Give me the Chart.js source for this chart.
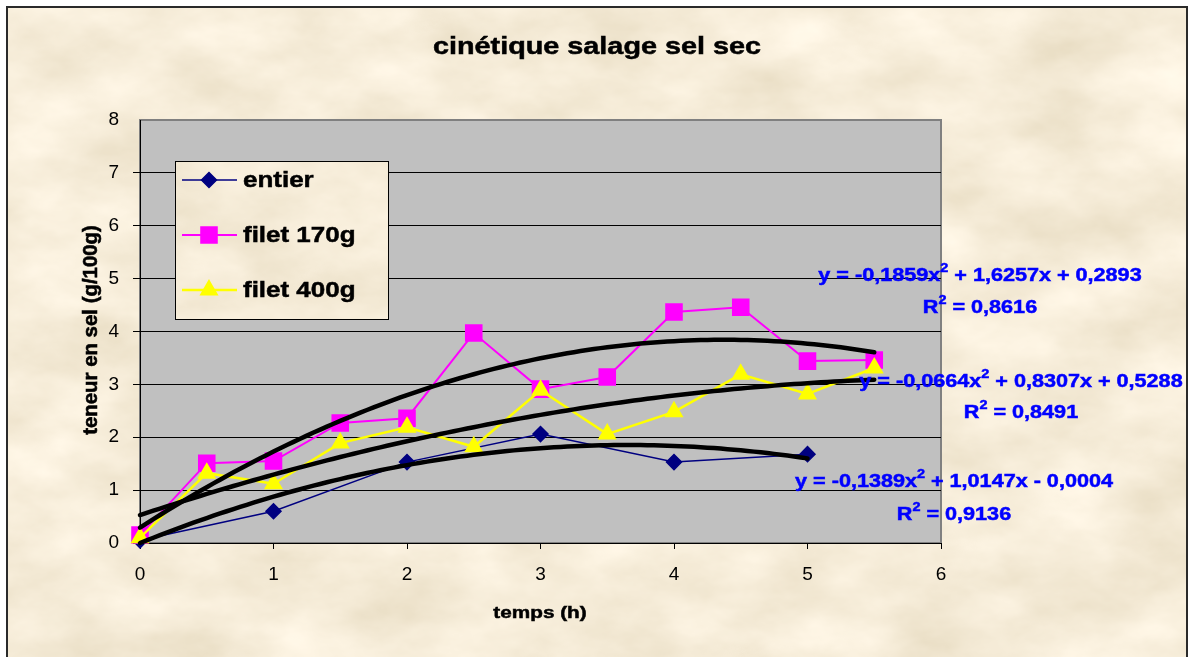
<!DOCTYPE html>
<html>
<head>
<meta charset="utf-8">
<title>cinétique salage sel sec</title>
<script src="https://cdn.jsdelivr.net/npm/chart.js@4.4.0/dist/chart.umd.min.js"></script>
<style>
  html, body { margin: 0; padding: 0; background: #fff; overflow: hidden; }
  #frame {
    position: absolute; left: 6px; top: 6px; width: 1182px; height: 720px;
    box-sizing: border-box; border: 2px solid #2a2a2a;
    background-color: #e9d5ae; background-position: -8px -8px;
  }
  #salage { position: absolute; left: 0; top: 0; }
</style>
</head>
<body>
<div id="frame"></div>
<canvas id="salage" width="1189" height="657"></canvas>
<script>
// temps (h)
const hours = [0, 0.5, 1, 1.5, 2, 2.5, 3, 3.5, 4, 4.5, 5, 5.5];
const entierHours = [0, 1, 2, 3, 4, 5];

// teneur en sel (g/100g)
const entier = [0.05, 0.6, 1.53, 2.06, 1.53, 1.68];
const filet170 = [0.15, 1.51, 1.55, 2.27, 2.36, 3.97, 2.91, 3.14, 4.37, 4.46, 3.44, 3.46];
const filet400 = [0.1, 1.32, 1.12, 1.89, 2.19, 1.82, 2.89, 2.06, 2.48, 3.19, 2.82, 3.31];

// polynomial trendlines: [x², x, constant] and R²
const fitEntier = [-0.1389, 1.0147, -0.0004];
const fit170 = [-0.1859, 1.6257, 0.2893];
const fit400 = [-0.0664, 0.8307, 0.5288];
const r2Values = [0.9136, 0.8616, 0.8491];

const xTicks = [0, 1, 2, 3, 4, 5, 6];
const yTicks = [0, 1, 2, 3, 4, 5, 6, 7, 8];

const FONT = '"Liberation Sans", Arial, sans-serif';

// parchment texture behind the whole chart
const texture = "<svg xmlns='http://www.w3.org/2000/svg' width='1200' height='740'>" +
  "<filter id='p' x='0' y='0' width='100%' height='100%'>" +
  "<feTurbulence type='fractalNoise' baseFrequency='0.009 0.016' numOctaves='5' seed='7'/>" +
  "<feColorMatrix type='matrix' values='0.28 0 0 0 0.78  0.3 0 0 0 0.69  0.36 0 0 0 0.51  0 0 0 0 1'/>" +
  "</filter><rect width='1200' height='740' filter='url(#p)'/></svg>";
document.getElementById('frame').style.backgroundImage =
  'url("data:image/svg+xml,' + encodeURIComponent(texture) + '")';

function pairs(xs, ys) {
  return xs.map((x, i) => ({ x: x, y: ys[i] }));
}

function curve(c, xEnd) {
  const pts = [];
  for (let i = 0; i <= Math.round(xEnd * 20); i++) {
    const x = i / 20;
    pts.push({ x: x, y: c[0] * x * x + c[1] * x + c[2] });
  }
  return pts;
}

const fmt = v => Math.abs(v).toFixed(4).replace('.', ',');

function eqRuns(c) {
  return [
    { t: 'y = ' + (c[0] < 0 ? '-' : '') + fmt(c[0]) + 'x' },
    { t: '2', sup: true },
    { t: ' ' + (c[1] < 0 ? '-' : '+') + ' ' + fmt(c[1]) + 'x ' + (c[2] < 0 ? '-' : '+') + ' ' + fmt(c[2]) }
  ];
}

function r2Runs(r) {
  return [{ t: 'R' }, { t: '2', sup: true }, { t: ' = ' + fmt(r) }];
}

// text drawn a little wider than the font, like the original export
function drawRuns(ctx, runs, cx, cy, size, sx, color, align) {
  const base = 'bold ' + size + 'px ' + FONT;
  const sup = 'bold ' + Math.round(size * 0.65) + 'px ' + FONT;
  ctx.save();
  let total = 0;
  runs.forEach(r => { ctx.font = r.sup ? sup : base; r.w = ctx.measureText(r.t).width; total += r.w; });
  ctx.translate(align === 'left' ? cx : cx - total * sx / 2, cy);
  ctx.scale(sx, 1);
  ctx.fillStyle = color;
  ctx.strokeStyle = color;
  ctx.lineWidth = 0.5;
  ctx.textAlign = 'left';
  ctx.textBaseline = 'middle';
  let x = 0;
  runs.forEach(r => {
    ctx.font = r.sup ? sup : base;
    const y = r.sup ? -size * 0.38 : 0;
    ctx.fillText(r.t, x, y);
    ctx.strokeText(r.t, x, y);
    x += r.w;
  });
  ctx.restore();
}

const fitLabels = [
  { coef: fitEntier, r2: r2Values[0], x: 954, y: 482, ry: 515 },
  { coef: fit170, r2: r2Values[1], x: 980, y: 276, ry: 308 },
  { coef: fit400, r2: r2Values[2], x: 1021, y: 382, ry: 413 }
];

const chartDecor = {
  id: 'chartDecor',
  beforeDraw(chart) {
    const { ctx, chartArea: a } = chart;
    ctx.save();
    ctx.fillStyle = '#c0c0c0';
    ctx.fillRect(a.left, a.top, a.right - a.left, a.bottom - a.top);
    ctx.strokeStyle = '#808080';
    ctx.lineWidth = 2;
    ctx.strokeRect(a.left, a.top, a.right - a.left, a.bottom - a.top);
    ctx.restore();
  },
  afterDraw(chart) {
    const ctx = chart.ctx;

    // title and axis titles
    drawRuns(ctx, [{ t: 'cinétique salage sel sec' }], 597, 47, 24, 1.2, '#000');
    drawRuns(ctx, [{ t: 'temps (h)' }], 540, 613, 17, 1.22, '#000');
    ctx.save();
    ctx.translate(92, 330);
    ctx.rotate(-Math.PI / 2);
    ctx.scale(1.2, 1.15);
    drawRuns(ctx, [{ t: 'teneur en sel (g/100g)' }], 0, 0, 17, 1, '#000');
    ctx.restore();

    // legend box
    const lx = 175, ly = 161, lw = 213, lh = 158;
    ctx.save();
    ctx.clearRect(lx, ly, lw, lh);
    ctx.strokeStyle = '#000';
    ctx.lineWidth = 1;
    ctx.strokeRect(lx + 0.5, ly + 0.5, lw, lh);
    chart.data.datasets.filter(d => d.legend).forEach((d, i) => {
      const y = 180 + i * 55;
      ctx.strokeStyle = d.borderColor;
      ctx.lineWidth = d.borderWidth;
      ctx.beginPath();
      ctx.moveTo(182, y);
      ctx.lineTo(237, y);
      ctx.stroke();
      ctx.fillStyle = d.pointBackgroundColor;
      ctx.strokeStyle = d.pointBorderColor;
      Chart.helpers.drawPoint(ctx, { pointStyle: d.pointStyle, radius: d.pointRadius, rotation: 0, borderWidth: 1 }, 209, y);
      drawRuns(ctx, [{ t: d.label }], 243, y + 1, 22, 1.18, '#000', 'left');
    });
    ctx.restore();

    // trendline equations
    fitLabels.forEach(f => {
      drawRuns(ctx, eqRuns(f.coef), f.x, f.y, 18, 1.2, '#0000ff');
      drawRuns(ctx, r2Runs(f.r2), f.x, f.ry, 18, 1.2, '#0000ff');
    });
  }
};

function trend(c, xEnd) {
  return {
    type: 'line', data: curve(c, xEnd), borderColor: '#000', borderWidth: 4.5,
    pointRadius: 0, fill: false, order: 0, clip: false, borderCapStyle: 'round'
  };
}

new Chart(document.getElementById('salage'), {
  type: 'line',
  data: {
    datasets: [
      {
        label: 'entier', legend: true, data: pairs(entierHours, entier),
        borderColor: '#000080', borderWidth: 1.5,
        pointStyle: 'rectRot', pointRadius: 7.5,
        pointBackgroundColor: '#000080', pointBorderColor: '#000080',
        order: 3, clip: false
      },
      {
        label: 'filet 170g', legend: true, data: pairs(hours, filet170),
        borderColor: '#ff00ff', borderWidth: 2,
        pointStyle: 'rect', pointRadius: 11,
        pointBackgroundColor: '#ff00ff', pointBorderColor: '#ff00ff',
        order: 2, clip: false
      },
      {
        label: 'filet 400g', legend: true, data: pairs(hours, filet400),
        borderColor: '#ffff00', borderWidth: 2.5,
        pointStyle: 'triangle', pointRadius: 8.5,
        pointBackgroundColor: '#ffff00', pointBorderColor: '#ffff00',
        order: 1, clip: false
      },
      trend(fitEntier, 5),
      trend(fit170, 5.5),
      trend(fit400, 5.5)
    ]
  },
  options: {
    responsive: false,
    animation: false,
    devicePixelRatio: 1,
    events: [],
    layout: { padding: { top: 120, right: 248, left: 0, bottom: 0 } },
    plugins: { legend: { display: false }, title: { display: false }, tooltip: { enabled: false } },
    scales: {
      x: {
        type: 'linear', min: xTicks[0], max: xTicks[xTicks.length - 1],
        afterFit: s => { s.height = 114; },
        afterBuildTicks: s => { s.ticks = xTicks.map(v => ({ value: v })); },
        grid: { drawOnChartArea: false, drawTicks: true, tickLength: 6, color: '#000', lineWidth: 1 },
        border: { display: true, color: '#000', width: 1 },
        ticks: { color: '#000', font: { family: FONT, size: 19 }, padding: 14, maxRotation: 0 }
      },
      y: {
        type: 'linear', min: yTicks[0], max: yTicks[yTicks.length - 1],
        afterFit: s => { s.width = 140; },
        afterBuildTicks: s => { s.ticks = yTicks.map(v => ({ value: v })); },
        grid: {
          drawTicks: true, tickLength: 7, lineWidth: 1,
          color: c => (c.tick && c.tick.value === 8) ? 'rgba(0,0,0,0)' : '#000'
        },
        border: { display: true, color: '#000', width: 1 },
        ticks: { color: '#000', font: { family: FONT, size: 19 }, padding: 14 }
      }
    }
  },
  plugins: [chartDecor]
});
</script>
</body>
</html>
